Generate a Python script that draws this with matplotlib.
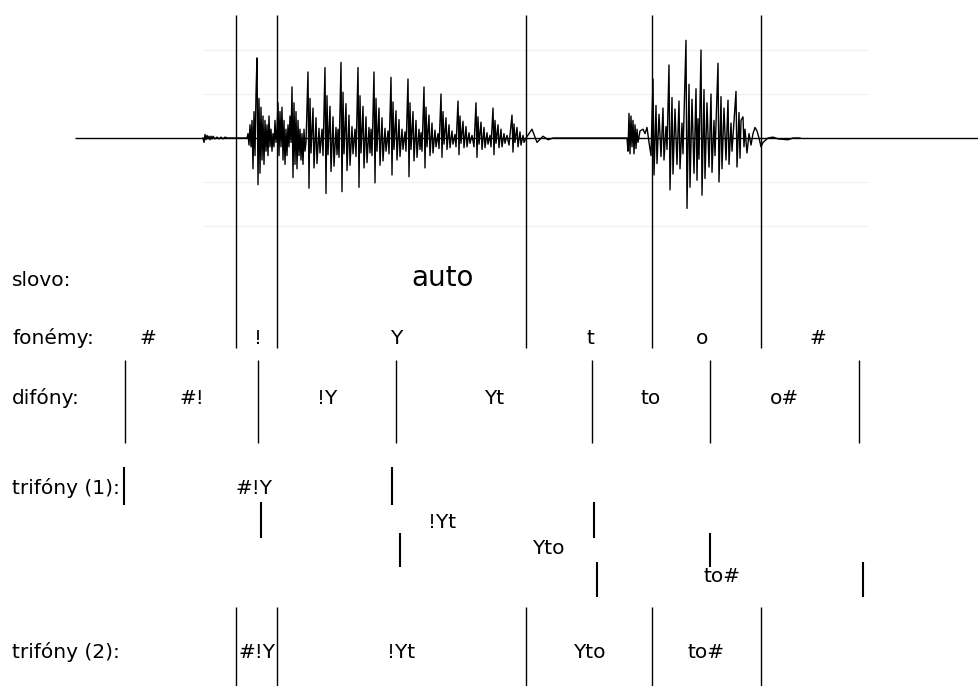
import numpy as np
import matplotlib.pyplot as plt

# waveform of the word "auto" (time in ms, amplitude relative to full scale),
# peaks
syl1_t = [0, 1, 2, 3, 4, 5, 6, 7, 8, 9, 10, 12, 14, 16, 18, 20, 22, 24, 25, 44,
          45, 46, 47, 48, 49, 50, 51, 52, 53, 54, 55, 56, 57, 58, 59, 60, 61, 62, 63, 64,
          65, 66, 67, 68, 69, 70, 71, 72, 73, 74,
          75, 76, 77, 78, 79, 80, 81, 82, 83, 84, 85, 86, 87, 88, 89, 90, 91, 92, 93, 94,
          95, 96, 97, 98, 99, 100, 101, 102, 103,
          105, 106, 107, 108, 110, 111, 113, 114, 116, 117, 119, 120,
          122, 123, 124, 125, 127, 128, 130, 131, 133, 134, 135, 136,
          138, 139, 140, 141, 143, 144, 146, 147, 149, 150, 152, 153,
          155, 156, 157, 158, 160, 161, 163, 164, 166, 167, 168, 169,
          171, 172, 173, 174, 176, 177, 179, 180, 182, 183, 185, 186,
          188, 189, 190, 191, 193, 194, 196, 197, 199, 200, 202, 203,
          205, 206, 207, 208, 210, 211, 213, 214, 216, 217, 218, 219,
          221, 222, 223, 224, 226, 227, 229, 230, 232, 233, 235, 236,
          238, 239, 240, 241, 243, 244, 246, 247, 249, 250, 252, 253,
          255, 256, 257, 258, 260, 261, 263, 264, 266, 267, 269, 271,
          273, 274, 275, 276, 278, 279, 281, 282, 284, 285, 287, 288,
          290, 291, 292, 293, 295, 296, 298, 299, 301, 302, 304, 306,
          309, 310, 311, 312, 314, 315, 317, 318, 320, 321, 323,
          329, 334, 340, 345, 350, 424]
syl1_a = [0, -.05, .04, -.02, .03, -.01, .02, -.02, .02, -.01, .02, -.01, .01, -.01, .01, -.01, .01, 0, 0, 0,
          .05, -.08, .15, -.1, .2, -.35, .3, -.2, .5, .91, -.53, .45, -.4, .35, -.25, .25, -.3, .2, -.15, .15,
          -.2, .25, -.1, .1, -.15, .05, -.1, .2, -.05, .1,
          .4, -.2, .3, -.1, .35, -.25, .2, -.3, .1, -.2, .15, -.1, .25, -.05, .58, -.45, .4, -.3, .3, -.35,
          .2, -.2, .1, -.25, .05, -.3, .1, -.15, -.05,
          .75, -.57, .45, -.17, .34, -.34, .23, -.29, .11, -.17, .1, -.2,
          .80, -.63, .48, -.19, .36, -.38, .24, -.32, .12, -.19, .1, -.22,
          .86, -.61, .52, -.18, .39, -.37, .26, -.31, .13, -.18, .1, -.21,
          .80, -.56, .48, -.17, .36, -.34, .24, -.28, .12, -.17, .1, -.2,
          .75, -.51, .45, -.15, .34, -.31, .23, -.26, .11, -.15, .08, -.18,
          .69, -.42, .41, -.13, .31, -.25, .21, -.21, .1, -.13, .07, -.15,
          .67, -.44, .40, -.13, .30, -.26, .2, -.22, .1, -.13, .06, -.15,
          .58, -.34, .35, -.1, .26, -.2, .17, -.17, .09, -.1, .05, -.12,
          .50, -.22, .30, -.07, .23, -.13, .15, -.11, .08, -.07, .04, -.1,
          .42, -.19, .25, -.06, .19, -.11, .13, -.1, .06, -.06, .03, -.1,
          .40, -.22, .24, -.07, .18, -.13, .12, -.11, .06, -.07, .03, -.1,
          .34, -.19, .2, -.06, .15, -.11, .1, -.1, .05, -.06, .03, -.08,
          .26, -.16, .16, -.05, .12, -.1, .07, -.08, .03, -.05, 0,
          .1, -.05, .02, -.02, 0, 0]

syl2_t = [425, 426, 427, 428, 429, 430, 431, 432, 433, 434, 435, 437, 440, 442, 444, 446, 448,
          450, 451, 453, 454, 456, 458, 460, 461, 463, 464,
          466, 467, 469, 470, 472, 474, 476, 477, 479, 480,
          483, 484, 486, 487, 489, 491, 493, 494, 495, 496,
          498, 499, 501, 502, 504, 506, 508, 509, 511, 512,
          515, 516, 518, 519, 521, 523, 525, 526, 528, 529,
          533, 534, 536, 537, 538, 540, 541, 542, 544, 546, 548, 550, 552, 554, 556, 558,
          560, 565, 570, 575, 585, 590, 597]
syl2_a = [-.15, .28, -.18, .25, -.1, .2, -.18, .15, -.12, .1, -.05, .08, .1, .05, .12, -.05, -.2,
          .67, -.42, .37, -.29, .27, -.21, .34, -.25, .13, -.13,
          .83, -.59, .46, -.41, .33, -.3, .42, -.35, .17, -.18,
          1.11, -.8, .61, -.56, .44, -.4, .56, -.48, .22, -.24,
          1.0, -.65, .55, -.46, .4, -.33, .5, -.39, .2, -.2,
          .85, -.5, .47, -.35, .34, -.25, .43, -.3, .17, -.15,
          .53, -.33, .29, -.23, .2, .24, -.1, .1, -.17, .05, -.08, .05, .12, .08, 0, -.1,
          -.05, 0, .01, -.01, -.02, 0, 0]

# segmentation (ms)
phone_bounds = [33, 74, 323, 449, 558]
phones = ['#', '!', 'Y', 't', 'o', '#']
phone_x = [-55, 55, 193, 387, 499, 615]

diphone_bounds = [-78, 55, 193, 389, 507, 656]
diphones = ['#!', '!Y', 'Yt', 'to', 'o#']

tri1_labels = ['#!Y', '!Yt', 'Yto', 'to#']
tri1_left = [-79, 58, 197, 394]
tri1_right = [189, 391, 507, 660]
tri1_x = [51, 239, 345, 519]

tri2_labels = ['#!Y', '!Yt', 'Yto', 'to#']
row_labels = ['slovo:', 'fonémy:', 'difóny:', 'trifóny (1):', 'trifóny (2):']

# layout (vertical positions in pixels from the top)
wave_y0, wave_scale = 138, 88
row_y = [280, 338, 398, 488, 652]
tri1_top = [467, 502, 533, 562]
tri1_bot = [505, 538, 567, 597]
tri1_ty = [488, 522, 548, 577]

fig = plt.figure(figsize=(9.79, 6.86), dpi=100)
ax = fig.add_axes([0, 0, 1, 1])
ax.set_xlim(-203, 776)
ax.set_ylim(686, 0)
ax.axis('off')

# waveform
for g in [-1.0, -0.5, 0.5, 1.0]:
    ax.hlines(wave_y0 - wave_scale * g, 0, 665, color='#f0f0f0', lw=0.9, zorder=0)
ax.hlines(wave_y0, -128, 776, color='black', lw=1.0)
wt = np.array(syl1_t + syl2_t)
wa = np.array(syl1_a + syl2_a)
ax.plot(wt, wave_y0 - wave_scale * wa, color='black', lw=1.0)

# phoneme boundaries
ax.vlines(phone_bounds, 15, 348, color='black', lw=1.0)

# row labels
for lab, y in zip(row_labels, row_y):
    ax.text(-191, y, lab, fontsize=14.5, ha='left', va='center')

ax.text(240, 278, 'auto', fontsize=20, ha='center', va='center')

for lab, x in zip(phones, phone_x):
    ax.text(x, row_y[1], lab, fontsize=14.5, ha='center', va='center')

# diphones
ax.vlines(diphone_bounds, 360, 443, color='black', lw=1.0)
for i, lab in enumerate(diphones):
    x = (diphone_bounds[i] + diphone_bounds[i + 1]) / 2
    ax.text(x, row_y[2], lab, fontsize=14.5, ha='center', va='center')

# triphones (1), staggered
for i, lab in enumerate(tri1_labels):
    ax.vlines([tri1_left[i], tri1_right[i]], tri1_top[i], tri1_bot[i], color='black', lw=1.5)
    ax.text(tri1_x[i], tri1_ty[i], lab, fontsize=14.5, ha='center', va='center')

# triphones (2), cut at phoneme boundaries
ax.vlines(phone_bounds, 607, 686, color='black', lw=1.0)
for i, lab in enumerate(tri2_labels):
    x = (phone_bounds[i] + phone_bounds[i + 1]) / 2
    ax.text(x, row_y[4], lab, fontsize=14.5, ha='center', va='center')

plt.savefig('out.png', dpi=100)
